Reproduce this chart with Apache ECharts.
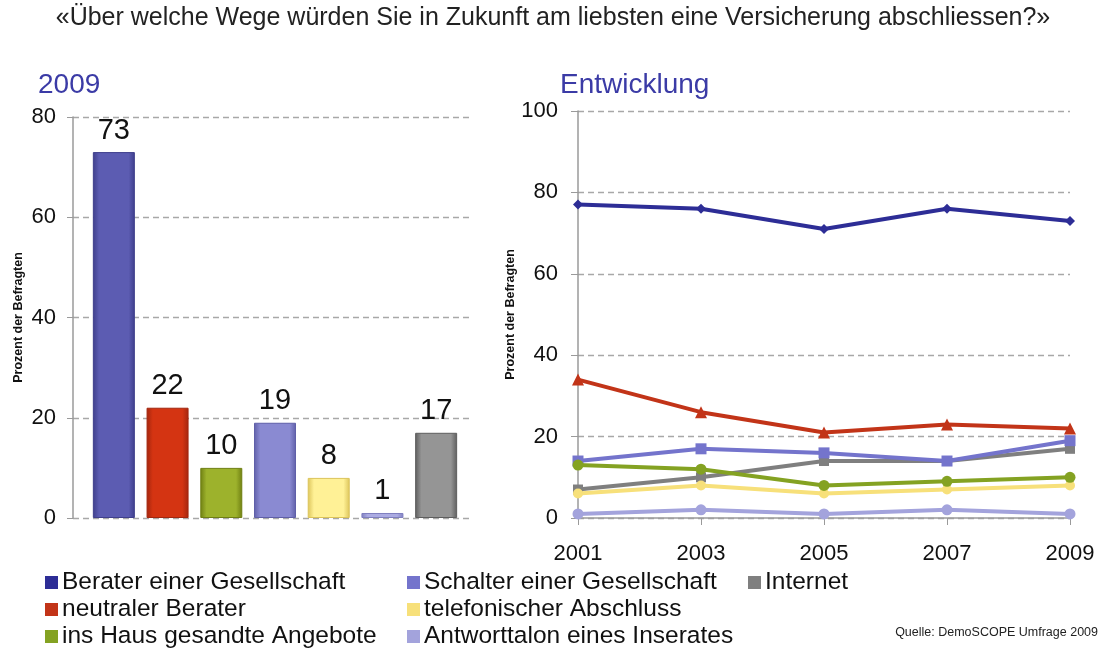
<!DOCTYPE html>
<html>
<head>
<meta charset="utf-8">
<script src="https://cdn.jsdelivr.net/npm/echarts@6/dist/echarts.min.js"></script>
<style>
  html, body { margin: 0; padding: 0; background: #fff; }
  #chart { width: 1106px; height: 649px; }
</style>
</head>
<body>
<div id="chart"></div>
<script>
// Wege / Kanäle
const kanaele = [
  "Berater einer Gesellschaft",
  "neutraler Berater",
  "ins Haus gesandte Angebote",
  "Schalter einer Gesellschaft",
  "telefonischer Abschluss",
  "Antworttalon eines Inserates",
  "Internet"
];
// 2009 Balken
const werte2009 = [73, 22, 10, 19, 8, 1, 17];

// Entwicklung
const jahre = ["2001", "2003", "2005", "2007", "2009"];
const berater = [77, 76, 71, 76, 73];
const neutral = [34, 26, 21, 23, 22];
const insHaus = [13, 12, 8, 9, 10];
const schalter = [14, 17, 16, 14, 19];
const telefon = [6, 8, 6, 7, 8];
const antwort = [1, 2, 1, 2, 1];
const internet = [7, 10, 14, 14, 17];

const barTicks = [0, 20, 40, 60, 80];
const lineTicks = [0, 20, 40, 60, 80, 100];

// Farben: [Rand, Mitte]
const farben = [
  ["#3f3f8c", "#5c5cb2"],
  ["#a3260e", "#d43412"],
  ["#6f7f12", "#9db22c"],
  ["#5f5fa8", "#8a8ad2"],
  ["#dcc45a", "#fff196"],
  ["#7f7fc0", "#ababe2"],
  ["#5e5e5e", "#959595"]
];
const linienFarben = ["#2d2d96", "#c23418", "#84a222", "#7474cc", "#f7e07a", "#a3a3dc", "#7f7f7f"];
const symbole = ["diamond", "triangle", "circle", "rect", "circle", "circle", "rect"];
const symbolGroessen = [10, 12, 11, 11, 10, 11, 10];

const FONT = "Liberation Sans, Arial, sans-serif";

function balkenFarbe(i) {
  return new echarts.graphic.LinearGradient(0, 0, 1, 0, [
    { offset: 0, color: farben[i][0] },
    { offset: 0.15, color: farben[i][1] },
    { offset: 0.85, color: farben[i][1] },
    { offset: 1, color: farben[i][0] }
  ]);
}

function legende(left, namen) {
  return {
    orient: "vertical", left: left, top: 570, height: 80, padding: 0, itemGap: 2,
    itemWidth: 13, itemHeight: 13, icon: "rect", selectedMode: false,
    textStyle: { fontSize: 24.5, color: "#111", fontFamily: FONT, lineHeight: 24, padding: [0, 0, 0, -1] },
    data: namen
  };
}

const chart = echarts.init(document.getElementById("chart"));

const linienDaten = [berater, neutral, insHaus, schalter, telefon, antwort, internet];
const linienSerien = linienDaten.map((d, i) => ({
  name: kanaele[i],
  type: "line",
  xAxisIndex: 2,
  yAxisIndex: 2,
  data: d,
  symbol: symbole[i],
  symbolSize: symbolGroessen[i],
  itemStyle: { color: linienFarben[i] },
  lineStyle: { color: linienFarben[i], width: 4 },
  z: 10 - i
}));

const option = {
  animation: false,
  textStyle: { fontFamily: FONT },
  title: [
    {
      text: "«Über welche Wege würden Sie in Zukunft am liebsten eine Versicherung abschliessen?»",
      left: "center", top: 6, padding: 0,
      textStyle: { fontSize: 25, fontWeight: "normal", color: "#222", fontFamily: FONT }
    },
    {
      text: "2009", left: 38, top: 71, padding: 0,
      textStyle: { fontSize: 28, fontWeight: "normal", color: "#3b3ba6", fontFamily: FONT }
    },
    {
      text: "Entwicklung", left: 560, top: 71, padding: 0,
      textStyle: { fontSize: 28, fontWeight: "normal", color: "#3b3ba6", fontFamily: FONT }
    }
  ],
  legend: [
    legende(45, [kanaele[0], kanaele[1], kanaele[2]]),
    legende(407, [kanaele[3], kanaele[4], kanaele[5]]),
    legende(748, [kanaele[6]])
  ],
  grid: [
    // Hintergrund mit Achse und Gitter (Balken)
    { left: 73, width: 399, top: 117, bottom: 131 },
    // Balken
    { left: 87, width: 376, top: 117, bottom: 131 },
    // Linien
    { left: 578, width: 492, top: 111, bottom: 131 }
  ],
  xAxis: [
    { gridIndex: 0, type: "category", data: kanaele, show: false },
    { gridIndex: 1, type: "category", data: kanaele, show: false },
    {
      gridIndex: 2, type: "category", data: jahre, boundaryGap: false,
      axisLine: { lineStyle: { color: "#9a9a9a", width: 1.5 } },
      axisTick: { show: true, length: 7, inside: false, lineStyle: { color: "#9a9a9a" } },
      axisLabel: { fontSize: 22, color: "#111", margin: 25, fontFamily: FONT },
      splitLine: { show: false }
    }
  ],
  yAxis: [
    {
      gridIndex: 0, type: "value", min: 0, max: 80, interval: 20,
      name: "Prozent der Befragten", nameLocation: "middle", nameGap: 48, nameRotate: 90,
      nameTextStyle: { fontSize: 12.5, fontWeight: "bold", color: "#111", fontFamily: FONT },
      axisLine: { show: true, lineStyle: { color: "#9a9a9a", width: 1.5 } },
      axisTick: { show: true, length: 6, lineStyle: { color: "#9a9a9a" } },
      axisLabel: { fontSize: 22, color: "#111", margin: 17, fontFamily: FONT,
        formatter: v => barTicks.includes(v) ? String(v) : "" },
      splitLine: { show: true, lineStyle: { color: "#a8a8a8", type: [6, 4], width: 1.3 } }
    },
    { gridIndex: 1, type: "value", min: 0, max: 80, show: false, splitLine: { show: false } },
    {
      gridIndex: 2, type: "value", min: 0, max: 100, interval: 20,
      name: "Prozent der Befragten", nameLocation: "middle", nameGap: 60, nameRotate: 90,
      nameTextStyle: { fontSize: 12.5, fontWeight: "bold", color: "#111", fontFamily: FONT },
      axisLine: { show: true, lineStyle: { color: "#9a9a9a", width: 1.5 } },
      axisTick: { show: true, length: 7, lineStyle: { color: "#9a9a9a" } },
      axisLabel: { fontSize: 22, color: "#111", margin: 20, fontFamily: FONT,
        formatter: v => lineTicks.includes(v) ? String(v) : "" },
      splitLine: { show: true, lineStyle: { color: "#a8a8a8", type: [6, 4], width: 1.3 } }
    }
  ],
  series: [
    {
      type: "bar",
      xAxisIndex: 1,
      yAxisIndex: 1,
      barWidth: 42,
      data: werte2009.map((v, i) => ({
        value: v,
        itemStyle: { color: balkenFarbe(i), borderColor: farben[i][0], borderWidth: 1 }
      })),
      label: {
        show: true, position: "top", distance: 7,
        fontSize: 29, color: "#111", fontFamily: FONT
      },
      z: 5
    },
    ...linienSerien
  ],
  graphic: [
    {
      type: "text", right: 8, top: 626,
      style: { text: "Quelle: DemoSCOPE Umfrage 2009", fontSize: 12.5, fill: "#222", fontFamily: FONT }
    }
  ]
};

chart.setOption(option);
</script>
</body>
</html>
